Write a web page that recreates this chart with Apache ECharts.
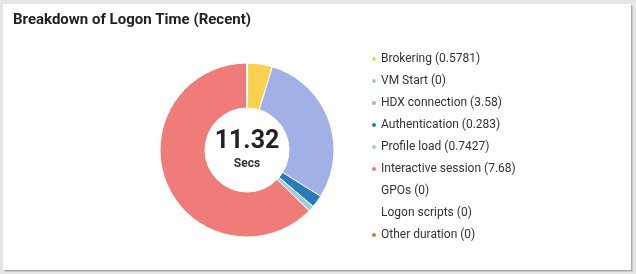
<!DOCTYPE html>
<html><head><meta charset="utf-8">
<script src="https://cdn.jsdelivr.net/npm/echarts@6/dist/echarts.min.js"></script>
<style>
html,body{margin:0;padding:0;background:#e6e6e6;width:636px;height:274px;overflow:hidden;}
#card{position:absolute;left:3px;top:4px;width:628px;height:266px;background:#fff;box-shadow:1px 1px 0 #a8a8a8, 2px 2px 0 #c8c8c8;}
#chart{position:absolute;left:0;top:0;width:628px;height:266px;}
</style></head>
<body><div id="card"><div id="chart"></div></div>
<script>
const titleText = 'Breakdown of Logon Time (Recent)';
const categories = ['Brokering','VM Start','HDX connection','Authentication','Profile load','Interactive session','GPOs','Logon scripts','Other duration'];
// values printed in the legend
const legendValues = [0.5781, 0, 3.58, 0.283, 0.7427, 7.68, 0, 0, 0];
// slice sizes as drawn in the donut
const sliceValues = [0.5781, 0, 3.58, 0.283, 0.13, 7.68, 0, 0, 0];
const colors = ['#fcd04f','#93d8c4','#a1b1e7','#2b7bba','#95d0e0','#f07c79','#ffffff','#ffffff','#b3893f'];
const totalText = '11.32';
const unitText = 'Secs';

const names = categories.map((c,i)=>c+' ('+legendValues[i]+')');
const chart = echarts.init(document.getElementById('chart'));
chart.setOption({
  animation:false,
  title:{text:titleText,left:10,top:9,padding:0,textStyle:{fontFamily:'Roboto',fontSize:15,fontWeight:'bold',color:'#222'}},
  legend:{orient:'vertical',left:362,top:43,icon:'circle',itemWidth:6,itemHeight:6,itemGap:8,
    textStyle:{fontFamily:'Roboto',fontSize:12,color:'#333',lineHeight:14,padding:[0,0,0,-1]},
    data:names},
  color:colors,
  series:[{
    type:'pie',center:[244,146],radius:[42,87],startAngle:90,clockwise:true,
    label:{show:true,position:'center',formatter:()=>'{a|'+totalText+'}\n{b|'+unitText+'}',
      rich:{a:{fontFamily:'Roboto',fontSize:25,fontWeight:'bold',color:'#222',lineHeight:28},
            b:{fontFamily:'Roboto',fontSize:12,fontWeight:'bold',color:'#333',lineHeight:16}}},
    labelLine:{show:false},
    emphasis:{disabled:true},
    itemStyle:{borderColor:'#fff',borderWidth:1},
    data:names.map((n,i)=>({name:n,value:sliceValues[i],itemStyle:{color:colors[i]}}))
  }]
});
</script></body></html>
